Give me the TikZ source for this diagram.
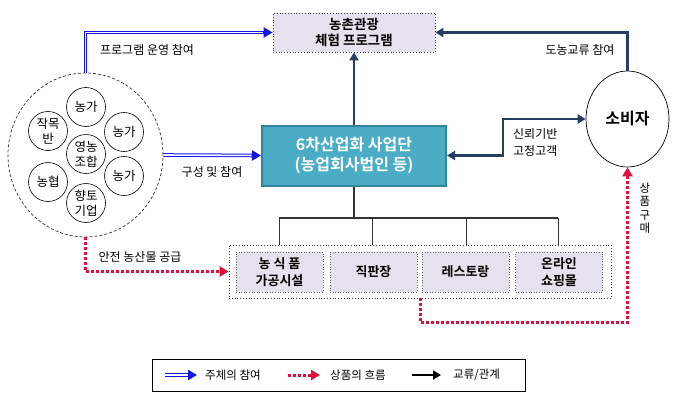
\documentclass[tikz,border=0pt]{standalone}
\usepackage{fontspec}
\setmainfont{Noto Sans CJK KR}[BoldFont={Noto Sans CJK KR Bold}]
\usetikzlibrary{arrows.meta,shapes.geometric,calc}
\definecolor{lav}{HTML}{E6E1EE}
\definecolor{tealf}{HTML}{4BACC6}
\definecolor{tealb}{HTML}{31849B}
\definecolor{navy}{HTML}{243F60}
\definecolor{dred}{HTML}{E0103C}
\definecolor{dblue}{HTML}{1414E6}
\tikzset{
  lbl/.style={font=\fontsize{12}{14}\selectfont, inner sep=0pt},
  small/.style={circle, draw=black, line width=0.6pt, minimum size=39pt, inner sep=0pt, align=center, font=\fontsize{12.5}{15}\selectfont},
  subbox/.style={draw=gray!80!black, dotted, line width=0.6pt, fill=lav, minimum width=87pt, minimum height=40pt, inner sep=0pt, align=center, font=\bfseries\fontsize{13}{17}\selectfont},
  partarrow/.style={draw=dblue, line width=3.6pt, -{Triangle[length=9pt,width=10pt]},
     postaction={draw=white, line width=1.6pt, -, shorten >=9.5pt}},
  flowarrow/.style={draw=dred, line width=3pt, dash pattern=on 3pt off 2pt, -{Triangle[length=9pt,width=10pt]}},
  relarrow/.style={draw=navy, line width=2.6pt, -{Triangle[length=8pt,width=9pt]}},
  relboth/.style={draw=navy, line width=2.6pt, {Triangle[length=8pt,width=9pt]}-{Triangle[length=8pt,width=9pt]}},
  tree/.style={draw=black!80, line width=1.2pt},
}
\begin{document}
\begin{tikzpicture}[x=1pt,y=-1pt]
\fill[white] (0,0) rectangle (679,404);
\useasboundingbox (0,0) rectangle (679,404);

% main nodes
\node[draw=black!75, dotted, line width=0.8pt, fill=lav, minimum width=162pt, minimum height=39pt, inner sep=0pt, align=center, font=\bfseries\fontsize{13.5}{16}\selectfont] (top) at (354,32.5) {농촌관광\\체험 프로그램};
\node[draw=tealb, line width=2pt, fill=tealf, text=white, minimum width=184pt, minimum height=60pt, inner sep=0pt, align=center, font=\bfseries\fontsize{16}{20}\selectfont] (six) at (354,155.5) {6차산업화 사업단\\(농업회사법인 등)};
\node[ellipse, draw=black, line width=0.7pt, minimum width=83pt, minimum height=96pt, inner sep=0pt, font=\bfseries\fontsize{16}{20}\selectfont] (cons) at (627.5,119) {소비자};
\node[ellipse, draw=black!80, dashed, dash pattern=on 3pt off 2pt, line width=0.7pt, minimum width=155pt, minimum height=164pt, inner sep=0pt] (big) at (85.5,155) {};

% small circles
\node[small] (c1) at (86,107) {농가};
\node[small] (c2) at (48,131) {작목\\반};
\node[small] (c3) at (124,132) {농가};
\node[small] (c4) at (86,154) {영농\\조합};
\node[small] (c5) at (48,182) {농협};
\node[small] (c6) at (124,176) {농가};
\node[small] (c7) at (86,203) {향토\\기업};

% bottom boxes
\node[draw=black!75, dotted, line width=0.8pt, minimum width=382pt, minimum height=53pt, inner sep=0pt] (outer) at (420,271.5) {};
\node[subbox] (proc) at (279.5,272) {농 식 품\\가공시설};
\node[subbox] (shop) at (373.5,272) {직판장};
\node[subbox] (rest) at (465.5,272) {레스토랑};
\node[subbox] (onl) at (559,272) {온라인\\쇼핑몰};

% tree
\coordinate (hl) at (279,218);
\coordinate (hr) at (558,218);
\draw[tree] (six.south) -- (six.south |- hl);
\draw[tree] (hl) -- (hr);
\foreach \xx in {279,372,466,558} \draw[tree, line width=0.9pt] (\xx,218) -- (\xx,0 |- outer.north);

% participation arrows
\draw[partarrow] (big.north) |- (top.west);
\draw[partarrow] (big.east) -- (six.west);
\node[lbl] (l1) at (147,50) {프로그램 운영 참여};
\node[lbl] (l2) at (212,172) {구성 및 참여};

% relation arrows
\draw[relarrow] (six.north) -- (top.south);
\draw[relarrow] (cons.north) |- (top.east);
\draw[relboth] (six.east) -- ++(56,0) |- (cons.west);
\node[lbl] (l3) at (580,50) {도농교류 참여};
\node[lbl, align=left, anchor=west, font=\fontsize{12}{17}\selectfont] (l4) at (513,143) {신뢰기반\\고정고객};

% flow arrows
\draw[flowarrow] (big.south) |- (outer.west);
\node[lbl] (l5) at (140,257) {안전 농산물 공급};
\coordinate (rs) at (420,298);
\draw[flowarrow] (rs) -- (420,322) -| (cons.south);
\node[lbl, align=center, font=\fontsize{11.5}{13.5}\selectfont] (l6) at (645,208) {상\\품\\구\\매};

% legend
\node[draw=black, line width=0.8pt, minimum width=373pt, minimum height=32pt, inner sep=0pt] (leg) at (338.5,375) {};
\coordinate (a1) at (165,375);
\coordinate (b1) at (197,375);
\draw[partarrow] (a1) -- (b1);
\node[lbl, anchor=west, font=\fontsize{11.5}{13}\selectfont] (t1) at (205,375) {주체의 참여};
\coordinate (a2) at (288,375);
\coordinate (b2) at (320,375);
\draw[flowarrow] (a2) -- (b2);
\node[lbl, anchor=west, font=\fontsize{11.5}{13}\selectfont] (t2) at (330,375) {상품의 흐름};
\coordinate (a3) at (412,375);
\coordinate (b3) at (441,375);
\draw[draw=black, line width=2.6pt, -{Triangle[length=8pt,width=9pt]}] (a3) -- (b3);
\node[lbl, anchor=west, font=\fontsize{11.5}{13}\selectfont] (t3) at (453,375) {교류/관계};
\end{tikzpicture}
\end{document}
